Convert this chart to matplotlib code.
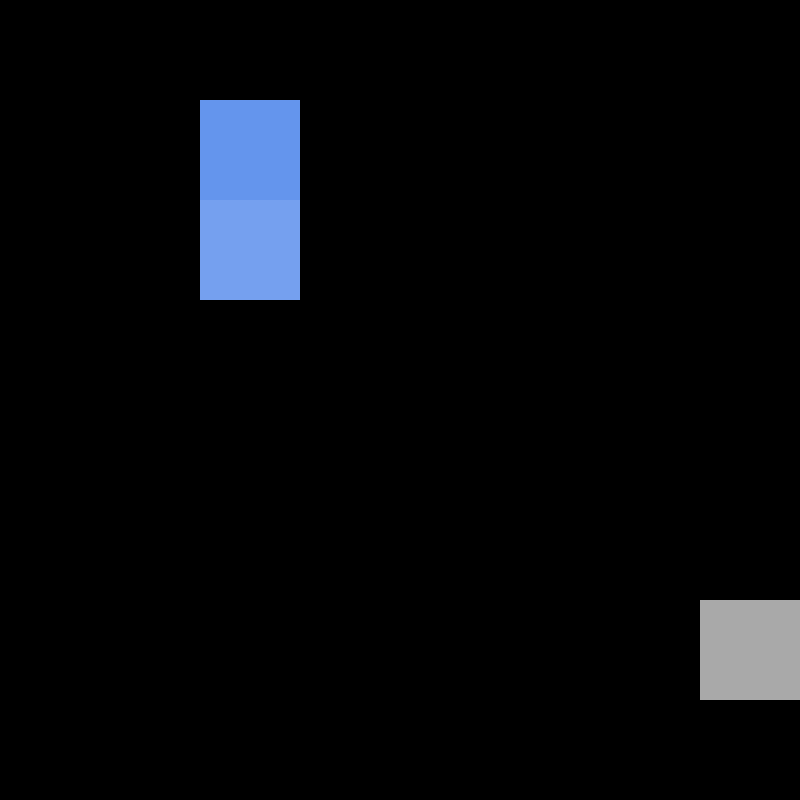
import numpy as np
import matplotlib.pyplot as plt
from matplotlib.colors import to_rgb

# grid size and the non-black cells
n_rows = 8
n_cols = 8
cell_rows = [1, 2, 6]
cell_cols = [2, 2, 7]
cell_colors = ['#6495ED', '#75A0EF', '#A9A9A9']

grid = np.zeros((n_rows, n_cols, 3))
for r, c, col in zip(cell_rows, cell_cols, cell_colors):
    grid[r, c] = to_rgb(col)

fig = plt.figure(figsize=(8, 8), dpi=100, facecolor='black')
ax = fig.add_axes([0, 0, 1, 1])
ax.imshow(grid, interpolation='nearest', aspect='auto')
ax.axis('off')

fig.savefig('out.png', dpi=100, facecolor='black')
